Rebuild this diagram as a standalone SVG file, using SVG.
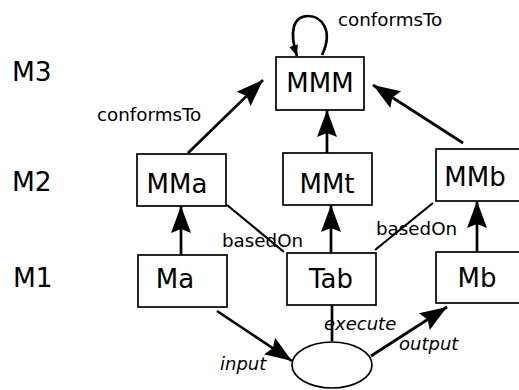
<svg xmlns="http://www.w3.org/2000/svg" width="519" height="390" viewBox="0 0 519 390">
<style>
.box{fill:#fff;stroke:#000;stroke-width:1.7}
.nt{font-family:"DejaVu Sans",sans-serif;font-size:26px;fill:#000;text-anchor:middle}
.lv{font-family:"DejaVu Sans",sans-serif;font-size:26.5px;fill:#000}
.lb{font-family:"DejaVu Sans",sans-serif;font-size:18.3px;fill:#000}
.it{font-family:"DejaVu Sans",sans-serif;font-size:18px;font-style:italic;fill:#000}
.ln{fill:none;stroke:#000;stroke-width:2.7}
.thin{fill:none;stroke:#000;stroke-width:2.2}
</style>
<defs>
<marker id="ah" markerUnits="userSpaceOnUse" viewBox="0 -11 28 22" refX="27" refY="0" markerWidth="28" markerHeight="22" orient="auto">
<path d="M0,-10 L27,0 L0,10 L4,0 Z" fill="#000"/>
</marker>
<marker id="ahs" markerUnits="userSpaceOnUse" viewBox="0 -5 12 10" refX="11" refY="0" markerWidth="12" markerHeight="10" orient="auto">
<path d="M0,-4.5 L11,0 L0,4.5 Z" fill="#000"/>
</marker>
</defs>
<rect width="519" height="390" fill="#fff"/>
<g id="levels">
<text class="lv" x="12" y="81">M3</text>
<text class="lv" x="12" y="191">M2</text>
<text class="lv" x="13" y="287">M1</text>
</g>
<g id="connectors">
<path class="ln" d="M188,153 L263,80" marker-end="url(#ah)"/>
<path class="ln" d="M463,143 L373,85" marker-end="url(#ah)"/>
<path class="ln" d="M327,153 L327,110" marker-end="url(#ah)"/>
<path class="ln" d="M181,255 L181,206" marker-end="url(#ah)"/>
<path class="ln" d="M331,253 L331,205" marker-end="url(#ah)"/>
<path class="ln" d="M477,252 L477,201" marker-end="url(#ah)"/>
<path class="thin" d="M227,205 L284,252"/>
<path class="thin" d="M375,250 L433,203"/>
<path class="ln" d="M332,305 L332,341"/>
<path class="ln" d="M217,311 L292,361" marker-end="url(#ah)"/>
<path class="ln" d="M371,356 L447,307" marker-end="url(#ah)"/>
<path class="ln" d="M322,55 C334,30 321,16 308,16 C293,16 289,32 297,56" marker-end="url(#ahs)"/>
</g>
<g id="labels">
<text class="lb" x="97" y="121">conformsTo</text>
<text class="lb" x="338" y="26">conformsTo</text>
<text class="lb" x="222" y="247">basedOn</text>
<text class="lb" x="376" y="235">basedOn</text>
<text class="it" x="324" y="330">execute</text>
<text class="it" x="399" y="350">output</text>
<text class="it" x="220" y="370">input</text>
</g>
<g id="MMM"><rect class="box" x="276" y="57" width="88" height="53"/><text class="nt" x="320" y="92">MMM</text></g>
<g id="MMa"><rect class="box" x="137" y="154" width="89" height="52"/><text class="nt" x="177" y="193">MMa</text></g>
<g id="MMt"><rect class="box" x="283" y="153" width="89" height="52"/><text class="nt" x="327" y="193">MMt</text></g>
<g id="MMb"><rect class="box" x="436" y="149" width="90" height="52"/><text class="nt" x="475" y="186">MMb</text></g>
<g id="Ma"><rect class="box" x="138" y="255" width="89" height="52"/><text class="nt" x="175" y="288">Ma</text></g>
<g id="Tab"><rect class="box" x="287" y="253" width="89" height="52"/><text class="nt" x="331" y="288">Tab</text></g>
<g id="Mb"><rect class="box" x="436" y="252" width="90" height="51"/><text class="nt" x="477" y="287">Mb</text></g>
<g id="exec"><ellipse class="box" cx="332" cy="365" rx="40" ry="23"/></g>
</svg>
